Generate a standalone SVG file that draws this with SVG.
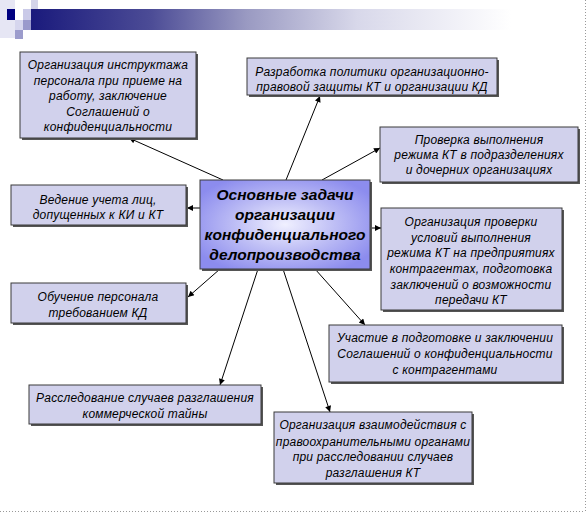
<svg xmlns="http://www.w3.org/2000/svg" width="588" height="514" viewBox="0 0 588 514">
<style>
.box{fill:#d1d1ec;stroke:#3a3a3a;stroke-width:1}
.sh{fill:#555}
.t{font-family:"Liberation Sans",Arial,sans-serif;font-size:12px;font-style:italic;fill:#000;text-anchor:middle;letter-spacing:0.2px}
.ct{font-family:"Liberation Sans",Arial,sans-serif;font-size:15.5px;font-style:italic;font-weight:bold;fill:#000;text-anchor:middle}
.c{stroke:#000;stroke-width:1;fill:none;marker-end:url(#ah)}
</style>
<defs>
<radialGradient id="cg" cx="0.5" cy="0.5" r="0.6">
<stop offset="0" stop-color="#f0f0ff"/>
<stop offset="0.5" stop-color="#bdbdf5"/>
<stop offset="1" stop-color="#8c8cee"/>
</radialGradient>
<linearGradient id="hg" x1="0" y1="0" x2="1" y2="0">
<stop offset="0" stop-color="#1a1a7c"/>
<stop offset="0.25" stop-color="#4c4c96"/>
<stop offset="0.45" stop-color="#9a9ac2"/>
<stop offset="0.68" stop-color="#d8d8ea"/>
<stop offset="1" stop-color="#ffffff"/>
</linearGradient>
<marker id="ah" viewBox="0 0 10 10" refX="10" refY="5" markerWidth="8" markerHeight="6" markerUnits="userSpaceOnUse" orient="auto">
<path d="M0,0 L10,5 L0,10 Z" fill="#000"/>
</marker>
</defs>
<rect width="588" height="514" fill="#fff"/>
<g id="header">
<rect x="0" y="0" width="15" height="38" fill="#e6e6f4"/>
<rect x="7" y="9" width="8" height="11" fill="#000080"/>
<rect x="15" y="20" width="8" height="10" fill="#d6d6ee"/>
<rect x="23" y="9" width="8" height="11" fill="#cacae8"/>
<rect x="23" y="20" width="8" height="10" fill="#9a9acc"/>
<rect x="31" y="0" width="7" height="9" fill="#d4d4ea"/>
<rect x="31" y="9" width="7" height="11" fill="#9c9cd0"/>
<rect x="15" y="30" width="8" height="9" fill="#9c9ccc"/>
<rect x="31" y="9" width="480" height="21" fill="url(#hg)"/>
</g>
<g id="frame" stroke="#999" stroke-width="1" stroke-dasharray="1 2" fill="none">
<line x1="585.5" y1="0" x2="585.5" y2="511"/>
<line x1="0" y1="511.5" x2="585" y2="511.5"/>
</g>
<g id="connectors">
<line class="c" x1="223" y1="180" x2="129" y2="138"/>
<line class="c" x1="286" y1="180" x2="320" y2="96"/>
<line class="c" x1="322" y1="180" x2="380" y2="148"/>
<line class="c" x1="200" y1="208" x2="187" y2="208"/>
<line class="c" x1="220" y1="269" x2="188" y2="297"/>
<line class="c" x1="370" y1="228" x2="381" y2="228"/>
<line class="c" x1="258" y1="269" x2="220" y2="385"/>
<line class="c" x1="283" y1="269" x2="330" y2="412"/>
<line class="c" x1="315" y1="269" x2="365" y2="325"/>
</g>
<g id="center">
<rect class="sh" x="202" y="182" width="170" height="89"/>
<rect x="200" y="180" width="170" height="89" fill="url(#cg)" stroke="#3a3a3a"/>
<text class="ct" x="285" y="200">Основные задачи</text>
<text class="ct" x="285" y="220">организации</text>
<text class="ct" x="285" y="240">конфиденциального</text>
<text class="ct" x="285" y="260">делопроизводства</text>
</g>
<g id="n1">
<rect class="sh" x="22" y="54" width="176" height="86"/>
<rect class="box" x="20" y="52" width="176" height="86"/>
<text class="t" x="108" y="69">Организация инструктажа</text>
<text class="t" x="108" y="85">персонала при приеме на</text>
<text class="t" x="108" y="100">работу, заключение</text>
<text class="t" x="108" y="116">Соглашений о</text>
<text class="t" x="108" y="131">конфиденциальности</text>
</g>
<g id="n2">
<rect class="sh" x="249" y="60" width="250" height="37"/>
<rect class="box" x="247" y="58" width="250" height="37"/>
<text class="t" x="372" y="76">Разработка политики организационно-</text>
<text class="t" x="372" y="91">правовой защиты КТ и организации КД</text>
</g>
<g id="n3">
<rect class="sh" x="382" y="129" width="198" height="55"/>
<rect class="box" x="380" y="127" width="198" height="55"/>
<text class="t" x="479" y="144">Проверка выполнения</text>
<text class="t" x="479" y="159">режима КТ в подразделениях</text>
<text class="t" x="479" y="174">и дочерних организациях</text>
</g>
<g id="n4">
<rect class="sh" x="13" y="187" width="175" height="40"/>
<rect class="box" x="11" y="185" width="175" height="40"/>
<text class="t" x="98" y="204">Ведение учета лиц,</text>
<text class="t" x="98" y="219">допущенных к КИ и КТ</text>
</g>
<g id="n5">
<rect class="sh" x="13" y="285" width="175" height="40"/>
<rect class="box" x="11" y="283" width="175" height="40"/>
<text class="t" x="98" y="301">Обучение персонала</text>
<text class="t" x="98" y="317">требованием КД</text>
</g>
<g id="n7">
<rect class="sh" x="383" y="210" width="181" height="102"/>
<rect class="box" x="381" y="208" width="181" height="102"/>
<text class="t" x="471" y="226">Организация проверки</text>
<text class="t" x="471" y="242">условий выполнения</text>
<text class="t" x="471" y="257">режима КТ на предприятиях</text>
<text class="t" x="471" y="273">контрагентах, подготовка</text>
<text class="t" x="471" y="289">заключений о возможности</text>
<text class="t" x="471" y="304">передачи КТ</text>
</g>
<g id="n8">
<rect class="sh" x="331" y="327" width="233" height="57"/>
<rect class="box" x="329" y="325" width="233" height="57"/>
<text class="t" x="445" y="342">Участие в подготовке и заключении</text>
<text class="t" x="445" y="358">Соглашений о конфиденциальности</text>
<text class="t" x="445" y="374">с контрагентами</text>
</g>
<g id="n9">
<rect class="sh" x="31" y="387" width="232" height="39"/>
<rect class="box" x="29" y="385" width="232" height="39"/>
<text class="t" x="145" y="402">Расследование случаев разглашения</text>
<text class="t" x="145" y="418">коммерческой тайны</text>
</g>
<g id="n10">
<rect class="sh" x="276" y="414" width="198" height="71"/>
<rect class="box" x="274" y="412" width="198" height="71"/>
<text class="t" x="373" y="429">Организация взаимодействия с</text>
<text class="t" x="373" y="446">правоохранительными органами</text>
<text class="t" x="373" y="461">при расследовании случаев</text>
<text class="t" x="373" y="477">разглашения КТ</text>
</g>
</svg>
